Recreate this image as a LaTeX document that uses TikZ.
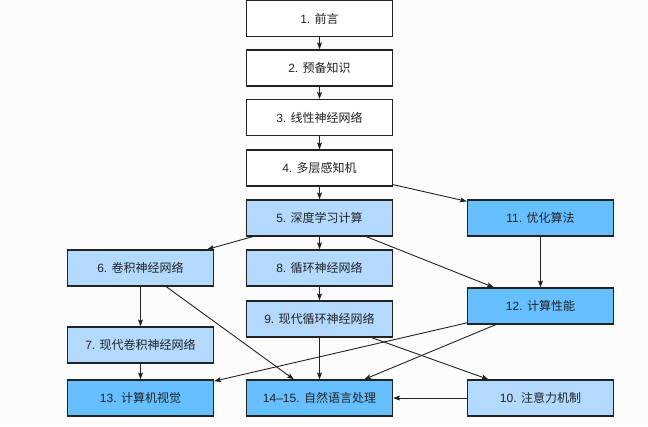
\documentclass[tikz,border=0pt]{standalone}
\usepackage{fontspec}
\setmainfont{Liberation Sans}
\newfontfamily\cjk{Noto Sans CJK SC}
\usetikzlibrary{arrows.meta}
\definecolor{bgc}{RGB}{252,252,252}
\definecolor{lblue}{RGB}{179,217,255}
\definecolor{mblue}{RGB}{102,192,255}
\definecolor{ink}{RGB}{34,34,34}
\newcommand{\lbl}[2]{#1 {\cjk #2}}
\tikzset{
  box/.style={draw=ink, line width=1.2pt, minimum width=146pt, minimum height=36pt,
    inner sep=0pt, font=\fontsize{12pt}{14pt}\selectfont, text=ink, fill=white},
  lb/.style={box, fill=lblue},
  mb/.style={box, fill=mblue},
  arr/.style={draw=ink, line width=0.9pt, -{Stealth[length=7pt,width=5pt,inset=1.5pt]}}
}
\begin{document}
\begin{tikzpicture}[x=1pt,y=-1pt]
\fill[bgc] (0,0) rectangle (648,426);
\useasboundingbox (0,0) rectangle (648,426);
\node[box] (n1) at (319.5,18.5) {\lbl{1.}{前言}};
\node[box] (n2) at (319.5,68) {\lbl{2.}{预备知识}};
\node[box] (n3) at (319.5,117.5) {\lbl{3.}{线性神经网络}};
\node[box] (n4) at (319.5,168) {\lbl{4.}{多层感知机}};
\node[lb] (n5) at (319.5,218) {\lbl{5.}{深度学习计算}};
\node[mb] (n11) at (540.5,218) {\lbl{11.}{优化算法}};
\node[lb] (n6) at (140.5,268) {\lbl{6.}{卷积神经网络}};
\node[lb] (n8) at (319.5,268) {\lbl{8.}{循环神经网络}};
\node[mb] (n12) at (540.5,306) {\lbl{12.}{计算性能}};
\node[lb] (n9) at (319.5,319) {\lbl{9.}{现代循环神经网络}};
\node[lb] (n7) at (140.5,345) {\lbl{7.}{现代卷积神经网络}};
\node[mb] (n13) at (140.5,398) {\lbl{13.}{计算机视觉}};
\node[mb] (n14) at (319.5,398) {\lbl{14–15.}{自然语言处理}};
\node[lb] (n10) at (540.5,398) {\lbl{10.}{注意力机制}};
\draw[arr] (n1) -- (n2);
\draw[arr] (n2) -- (n3);
\draw[arr] (n3) -- (n4);
\draw[arr] (n4) -- (n5);
\draw[arr] (n4) -- (n11);
\draw[arr] (n5) -- (n6);
\draw[arr] (n5) -- (n8);
\draw[arr] (n5) -- (n12);
\draw[arr] (n11) -- (n12);
\draw[arr] (n6) -- (n7);
\draw[arr] (n6) -- (n14);
\draw[arr] (n8) -- (n9);
\draw[arr] (n9) -- (n14);
\draw[arr] (n9) -- (n10);
\draw[arr] (n7) -- (n13);
\draw[arr] (n12) -- (n13);
\draw[arr] (n12) -- (n14);
\draw[arr] (n10) -- (n14);
\end{tikzpicture}
\end{document}
